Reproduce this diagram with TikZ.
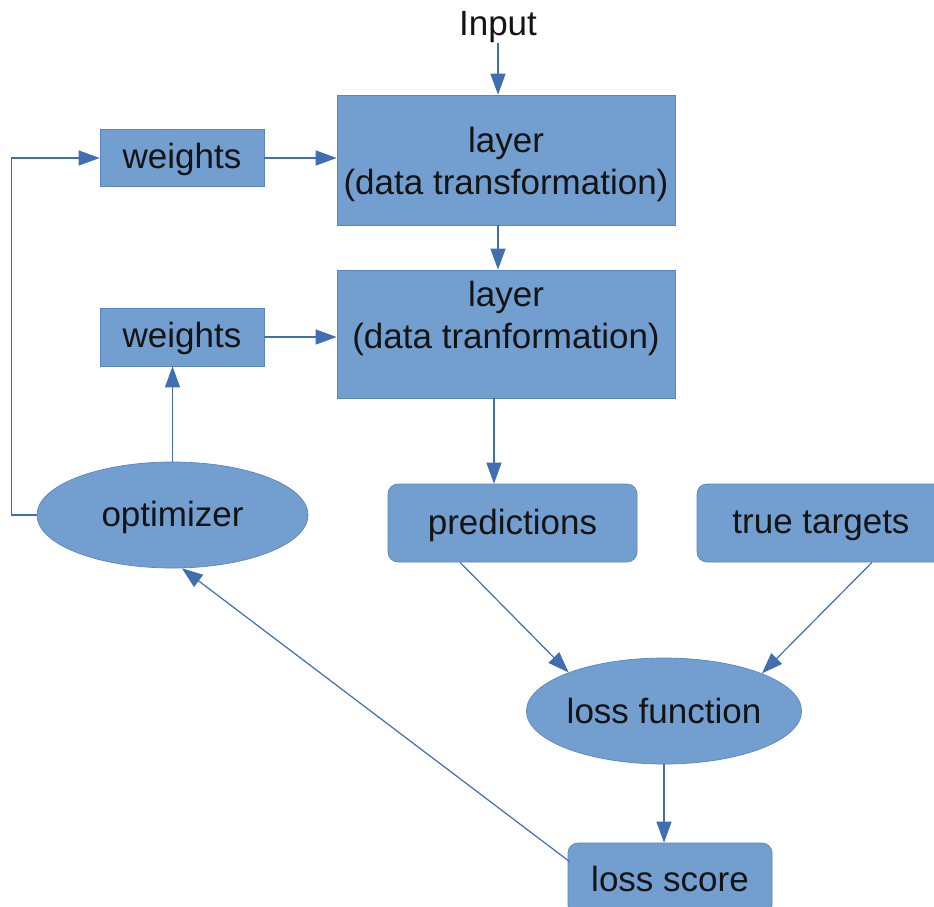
\documentclass[tikz,border=0pt]{standalone}
\usepackage{fontspec}
\setmainfont{Liberation Sans}
\usetikzlibrary{arrows.meta,shapes.geometric,calc}
\definecolor{boxfill}{HTML}{729FCF}
\definecolor{boxline}{HTML}{5A86BD}
\definecolor{arrline}{HTML}{3F6FB0}
\definecolor{txtcol}{HTML}{141414}
\tikzset{
  txt/.style={font=\fontsize{35}{42}\selectfont, text=txtcol, inner sep=0pt},
  plainbox/.style={txt, rectangle, fill=boxfill, draw=boxline, line width=0.7pt},
  roundbox/.style={plainbox, rounded corners=10pt},
  ellbox/.style={txt, ellipse, fill=boxfill, draw=boxline, line width=0.7pt},
  conn/.style={draw=arrline, line width=1.2pt, -{Triangle[length=21pt,width=15pt]}},
}
\begin{document}
\begin{tikzpicture}[x=1pt,y=-1pt]
\clip (0,0) rectangle (934,906);
\fill[white] (0,0) rectangle (934,906);

\node[txt] (in) at (498,27) {Input};

\node[plainbox, minimum width=338pt, minimum height=130pt] (l1) at (506,160) {};
\node[txt, align=center] (l1t) at (506,164) {layer\\(data transformation)};
\node[plainbox, minimum width=338pt, minimum height=128pt] (l2) at (506,334) {};
\node[txt, align=center] (l2t) at (506,318) {layer\\(data tranformation)};

\node[plainbox, minimum width=164pt, minimum height=57pt, text depth=3.5pt] (w1) at (182,158) {weights};
\node[plainbox, minimum width=164pt, minimum height=58pt, text depth=3.5pt] (w2) at (182,337) {weights};

\node[ellbox, minimum width=271pt, minimum height=106pt, text depth=2pt] (opt) at (172.5,515) {optimizer};

\node[roundbox, minimum width=249pt, minimum height=78pt, text depth=2pt] (pred) at (512.5,523) {predictions};
\node[roundbox, minimum width=248pt, minimum height=78pt, text depth=2pt] (tt) at (821,523) {true targets};

\node[ellbox, minimum width=272pt, minimum height=106pt] (lf) at (664,711) {loss function};

\node[roundbox, minimum width=204pt, minimum height=72pt] (ls) at (670,879) {loss score};

% connectors
\draw[conn] (in.south) -- (in.south |- l1.north);
\draw[conn] (l1.south -| in.south) -- (l2.north -| in.south);
\draw[conn] (w1.east) -- (l1.west |- w1.east);
\draw[conn] (w2.east) -- (l2.west |- w2.east);
\draw[conn] (opt.north) -- (opt.north |- w2.south);
\draw[conn] (opt.west) -- ++(-25,0) |- (w1.west);
\coordinate (pt) at ($(pred.north)+(-18.5,0)$);
\draw[conn] (l2.south -| pt) -- (pt);
\draw[conn] ($(pred.south)+(-52.5,0)$) -- (lf.158.5);
\draw[conn] ($(tt.south)+(51,0)$) -- (lf.21.5);
\draw[conn] (lf.south) -- (lf.south |- ls.north);
\draw[conn] ($(ls.north west)+(2,19)$) -- (opt.-80);
\end{tikzpicture}
\end{document}
